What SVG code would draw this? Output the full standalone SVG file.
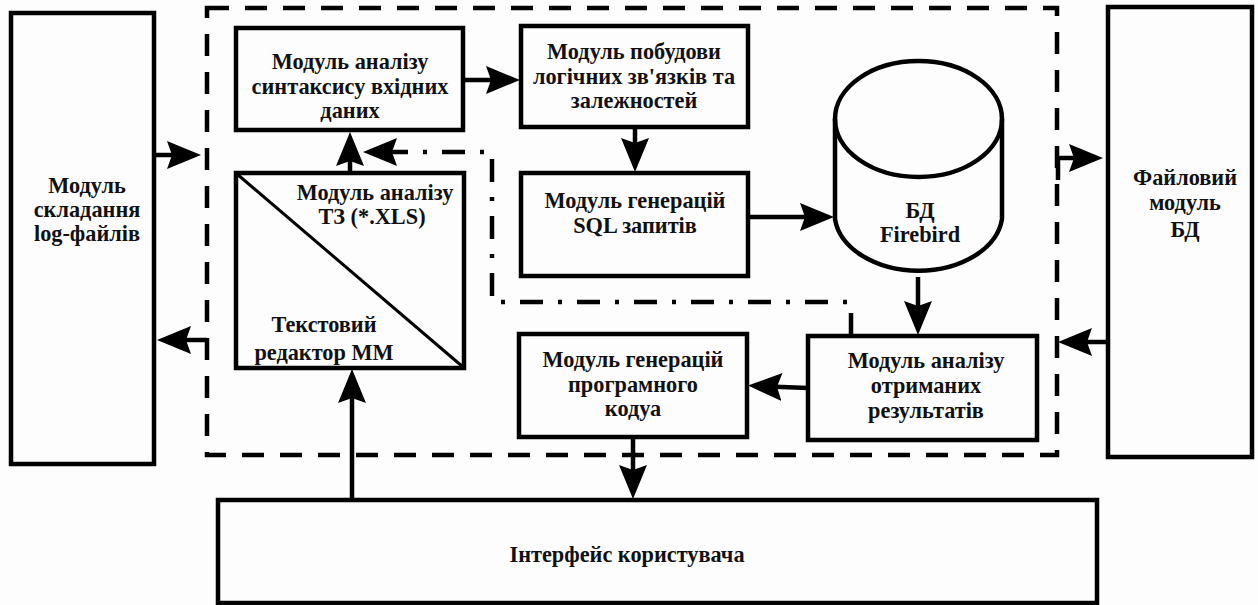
<svg xmlns="http://www.w3.org/2000/svg" width="1258" height="605" viewBox="0 0 1258 605">
<style>
.box{fill:none;stroke:#000;stroke-width:4.5}
.t{font-family:"Liberation Serif","Times New Roman",serif;font-weight:bold;font-size:22.3px;text-anchor:middle;fill:#111}
.c{fill:none;stroke:#000;stroke-width:4.5}
.dash{fill:none;stroke:#000;stroke-width:4.5;stroke-dasharray:22 16}
.dd{fill:none;stroke:#000;stroke-width:4.5;stroke-dasharray:23 15 4 15}
</style>
<defs>
<marker id="ah" viewBox="0 0 34 28" markerWidth="34" markerHeight="28" refX="24" refY="14" orient="auto" markerUnits="userSpaceOnUse">
<path d="M0,0 L34,14 L0,28 L5,14 Z" fill="#000"/>
</marker>
</defs>
<rect width="1258" height="605" fill="#fdfdfd"/>
<rect class="dash" x="207" y="8" width="850" height="447"/>
<g id="log">
<rect class="box" x="11" y="13" width="143" height="451"/>
<text class="t" x="87" y="193">Модуль</text>
<text class="t" x="87" y="217">складання</text>
<text class="t" x="87" y="241">log-файлів</text>
</g>
<g id="syntax">
<rect class="box" x="236" y="28" width="227" height="102"/>
<text class="t" x="350" y="69">Модуль аналізу</text>
<text class="t" x="350" y="94">синтаксису вхідних</text>
<text class="t" x="350" y="118">даних</text>
</g>
<g id="logic">
<rect class="box" x="521" y="26" width="227" height="101"/>
<text class="t" x="634" y="59">Модуль побудови</text>
<text class="t" x="634" y="84">логічних зв'язків та</text>
<text class="t" x="634" y="108">залежностей</text>
</g>
<g id="sql">
<rect class="box" x="521" y="173" width="227" height="103"/>
<text class="t" x="635" y="208">Модуль генерацій</text>
<text class="t" x="635" y="233">SQL запитів</text>
</g>
<g id="db">
<path class="box" d="M835,119 V219 A84,58 0 0 0 1002,219 V119"/>
<ellipse class="box" cx="918.5" cy="119" rx="83.5" ry="58"/>
<text class="t" x="920" y="218">БД</text>
<text class="t" x="920" y="242">Firebird</text>
</g>
<g id="editor">
<rect class="box" x="236" y="173" width="228" height="195"/>
<line x1="237" y1="174" x2="463" y2="367" stroke="#000" stroke-width="3"/>
<text class="t" x="375" y="200">Модуль аналізу</text>
<text class="t" x="372" y="224">ТЗ (*.XLS)</text>
<text class="t" x="324" y="332">Текстовий</text>
<text class="t" x="324" y="360">редактор ММ</text>
</g>
<g id="progcode">
<rect class="box" x="519" y="334" width="228" height="103"/>
<text class="t" x="633" y="367">Модуль генерацій</text>
<text class="t" x="633" y="392">програмного</text>
<text class="t" x="633" y="416">кодуа</text>
</g>
<g id="results">
<rect class="box" x="808" y="336" width="229" height="104"/>
<text class="t" x="926" y="368">Модуль аналізу</text>
<text class="t" x="926" y="393">отриманих</text>
<text class="t" x="926" y="418">результатів</text>
</g>
<g id="filedb">
<rect class="box" x="1108" y="7" width="144" height="450"/>
<text class="t" x="1185" y="185">Файловий</text>
<text class="t" x="1185" y="210">модуль</text>
<text class="t" x="1185" y="237">БД</text>
</g>
<g id="ui">
<rect class="box" x="218" y="500" width="879" height="103"/>
<text class="t" x="627" y="562">Інтерфейс користувача</text>
</g>
<g id="connectors">
<path class="c" d="M155,155 H191" marker-end="url(#ah)"/>
<path class="c" d="M207,340 H167" marker-end="url(#ah)"/>
<path class="c" d="M463,80 H510" marker-end="url(#ah)"/>
<path class="c" d="M635,127 V162" marker-end="url(#ah)"/>
<path class="c" d="M748,217 H824" marker-end="url(#ah)"/>
<path class="c" d="M918,277 V325" marker-end="url(#ah)"/>
<path class="c" d="M808,388 L758,386" marker-end="url(#ah)"/>
<path class="c" d="M633,437 V489" marker-end="url(#ah)"/>
<path class="c" d="M352,500 V379" marker-end="url(#ah)"/>
<path class="c" d="M350,173 V142" marker-end="url(#ah)"/>
<path class="dd" d="M851,336 V302 H492 V152 H373"/>
<path d="M385,152 H373" class="c" marker-end="url(#ah)"/>
<path class="c" d="M1058,180 V158 H1093" marker-end="url(#ah)"/>
<path class="c" d="M1108,342 H1068" marker-end="url(#ah)"/>
</g>
</svg>
